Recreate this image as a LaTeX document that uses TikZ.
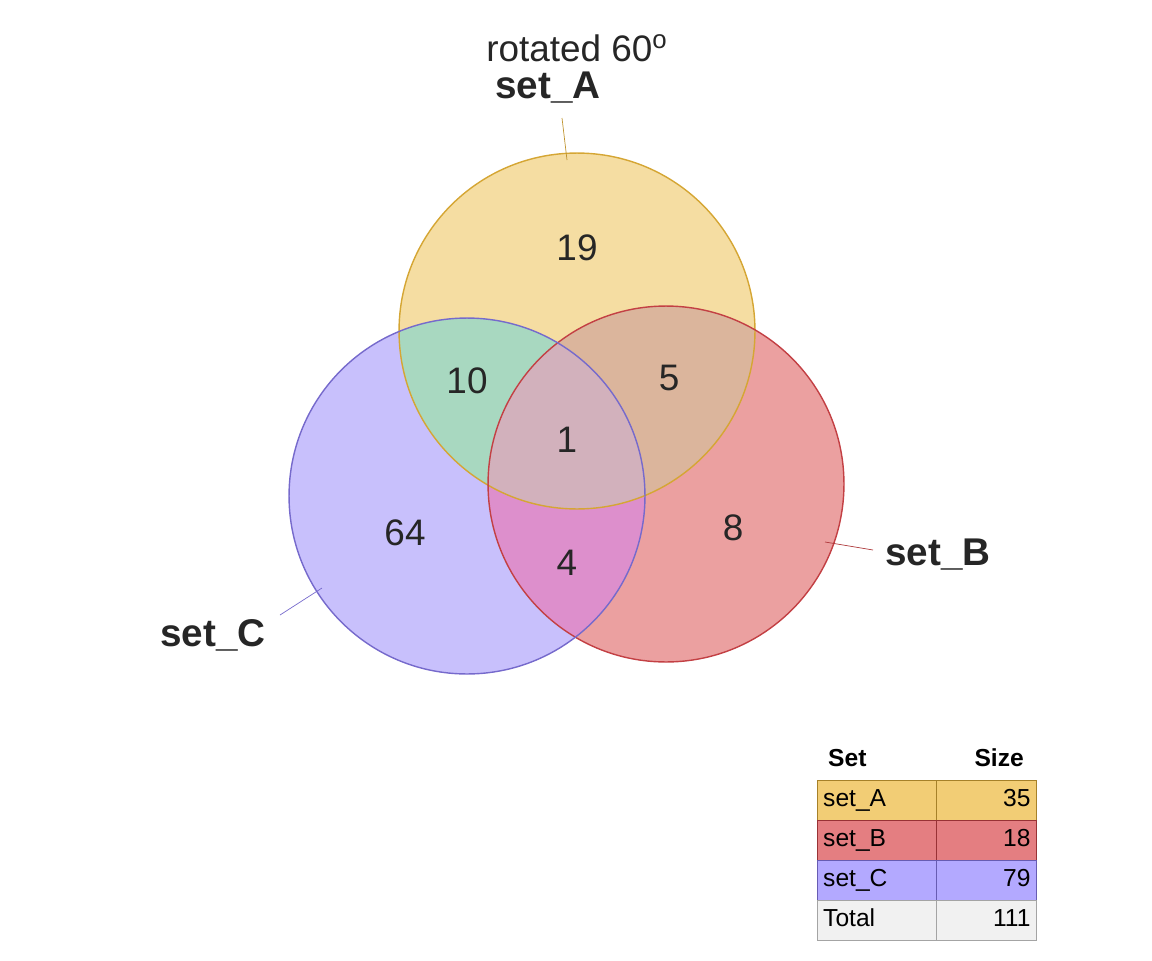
\documentclass[tikz,border=0pt]{standalone}
\usepackage{fontspec}
\setmainfont{Liberation Sans}
\usetikzlibrary{positioning}
\definecolor{colA}{HTML}{EDB83A}
\definecolor{colB}{HTML}{D9474B}
\definecolor{colC}{HTML}{9384FF}
\definecolor{colT}{HTML}{EBEBEB}
\definecolor{onlyA}{HTML}{F5DDA2}
\definecolor{onlyB}{HTML}{EBA0A0}
\definecolor{onlyC}{HTML}{C8C0FC}
\definecolor{regAB}{HTML}{DBB59C}
\definecolor{regAC}{HTML}{A8D8C0}
\definecolor{regBC}{HTML}{DD8FCC}
\definecolor{regABC}{HTML}{D2B1BC}
\tikzset{
	setcircle/.style={draw, circle, inner sep=0pt, minimum size=7.12cm, line width=0.8pt},
	count/.style={font=\fontsize{21}{24}\selectfont, text=black!85},
	setlabel/.style={font=\fontsize{22}{25}\selectfont\bfseries, text=black!85},
	cell/.style={draw, minimum height=0.8cm, inner sep=0pt, fill opacity=0.7},
	celltext/.style={font=\fontsize{14}{16}\selectfont, text height=1.6ex, text depth=0.3ex},
}
\newcommand{\circA}{(577,331) circle (178)}
\newcommand{\circB}{(666,484) circle (178)}
\newcommand{\circC}{(467,496) circle (178)}
\begin{document}
\begin{tikzpicture}[x=0.02cm, y=-0.02cm]
		\useasboundingbox (0,0) rectangle (1152,960);
		% region fills
		\fill [onlyA] \circA;
		\fill [onlyB] \circB;
		\fill [onlyC] \circC;
		\begin{scope}
			\clip \circA;
			\fill [regAB] \circB;
			\fill [regAC] \circC;
			\clip \circB;
			\fill [regABC] \circC;
		\end{scope}
		\begin{scope}
			\clip \circB;
			\clip \circC;
			\clip (0,0) rectangle (1152,960) \circA;
			\fill [regBC, even odd rule] (0,0) rectangle (1152,960) \circA;
		\end{scope}
		\begin{scope}
			\clip \circB;
			\clip \circC;
			\fill [regABC] \circA;
		\end{scope}
		\node (A) [setcircle, draw=colA!90!black] at (577,331) {};
		\node (B) [setcircle, draw=colB!90!black] at (666,484) {};
		\node (C) [setcircle, draw=colC!80!black] at (467,496) {};
		
		\node (n19) [count] at (577,248) {19};
		\node (n10) [count] at (467,381) {10};
		\node (n5) [count] at (669,378) {5};
		\node (n1) [count] at (567,440) {1};
		\node (n64) [count] at (405,533) {64};
		\node (n8) [count] at (733,528) {8};
		\node (n4) [count] at (567,563) {4};
		
		\node (title) [font=\fontsize{21}{24}\selectfont, text=black!85] at (577,48) {rotated 60\textsuperscript{o}};
		\node (labA) [setlabel] at (548,88) {set\_A};
		\node (labB) [setlabel] at (938,555) {set\_B};
		\node (labC) [setlabel] at (213,635) {set\_C};
		\coordinate (tipA) at (567,160);
		\coordinate (tipB) at (825,542);
		\coordinate (tipC) at (322,588);
		\draw [colA!80!black] (562,118) -- (tipA);
		\draw [colB!80!black] (873,550) -- (tipB);
		\draw [colC!80!black] (280,615) -- (tipC);
		
		% table
		\node (hset) [celltext, font=\fontsize{14}{16}\selectfont\bfseries, anchor=west] at (822,760) {Set};
		\node (hsize) [celltext, font=\fontsize{14}{16}\selectfont\bfseries, anchor=east] at (1030,760) {Size};
		\foreach \name/\val/\col [count=\i from 0] in {set\_A/35/colA, set\_B/18/colB, set\_C/79/colC, Total/111/colT} {
			\node (s\i) [cell, fill=\col, draw=\col!70!black, minimum width=2.38cm, anchor=north west] at (817,{780+40*\i}) {};
			\node (v\i) [cell, fill=\col, draw=\col!70!black, minimum width=2cm, anchor=north west] at (936,{780+40*\i}) {};
			\node [celltext, anchor=west] at (s\i.west) {\name};
			\node [celltext, anchor=east] at (v\i.east) {\val};
		}
	\end{tikzpicture}
\end{document}
